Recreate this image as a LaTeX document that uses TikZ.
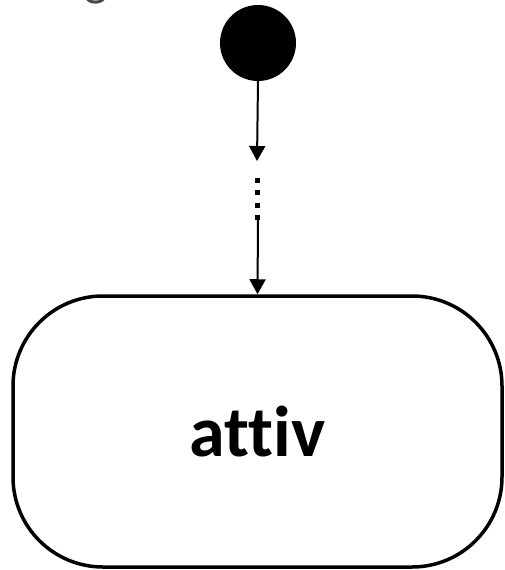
\documentclass[tikz,border=0pt]{standalone}
\usepackage{fontspec}
\setmainfont{Carlito}[Ligatures=NoCommon]
\usetikzlibrary{arrows.meta}
\begin{document}
\begin{tikzpicture}[x=1pt,y=-1pt,
  initstate/.style={circle, fill=black, minimum size=76pt, inner sep=0pt},
  statebox/.style={draw, line width=3.5pt, rectangle, rounded corners=90pt,
    minimum width=489pt, minimum height=271pt, inner sep=0pt,
    font=\bfseries\fontsize{72}{80}\selectfont},
  trans/.style={line width=2pt, -{Triangle[width=16pt,length=15pt]}},
  elide/.style={line width=5pt, dash pattern=on 5pt off 7.5pt},
  titletext/.style={anchor=base west, inner sep=0pt, text=black!72,
    font=\fontsize{50}{60}\selectfont}]
\useasboundingbox (0,0) rectangle (504,570);
\node[titletext] (title) at (18,-5) {Diagramma di stato attivo};
\node[initstate] (init) at (258,43) {};
\coordinate (a1) at (257,161);
\coordinate (dt) at (257,177.5);
\coordinate (db) at (257,220);
\coordinate (a2) at (258,220);
\node[statebox] (attiv) at (257.5,431.5) {attiv};
\draw[trans] (init.south) -- (a1);
\draw[elide] (dt) -- (db);
\draw[trans] (a2) -- (attiv.north);
\end{tikzpicture}
\end{document}
